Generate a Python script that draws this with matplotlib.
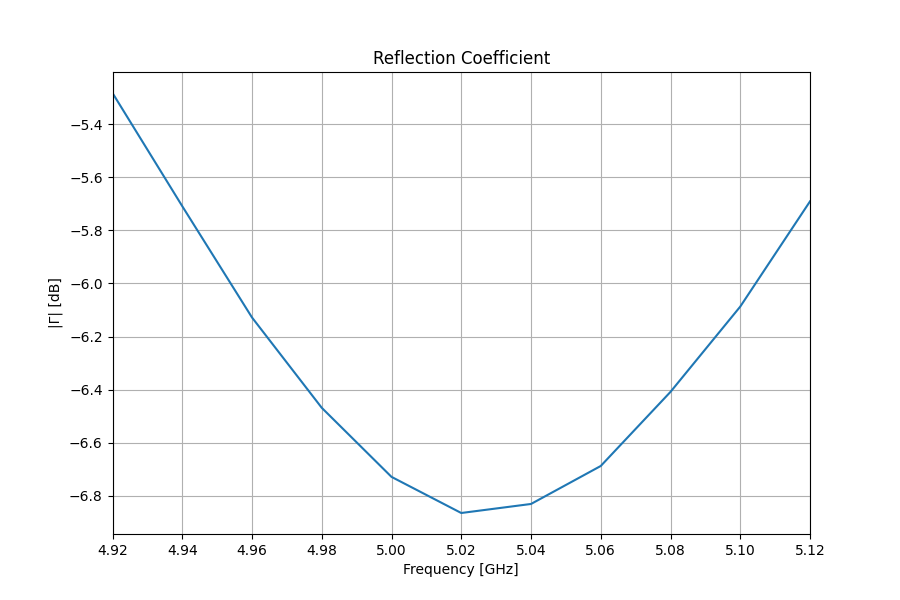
import matplotlib
matplotlib.use("Agg")
import matplotlib.pyplot as plt
import matplotlib.ticker as mticker

freq = [4.92, 4.94, 4.96, 4.98, 5.00, 5.02, 5.04, 5.06, 5.08, 5.10, 5.12]
gamma_db = [-5.283, -5.709, -6.128, -6.468, -6.728, -6.864, -6.830, -6.687, -6.408, -6.087, -5.691]

fig, ax = plt.subplots(figsize=(9, 6), dpi=100)
ax.plot(freq, gamma_db)
ax.set_xlim(freq[0], freq[-1])
ax.set_xticks(freq)
ax.xaxis.set_major_formatter(mticker.FormatStrFormatter("%.2f"))
ax.set_title("Reflection Coefficient")
ax.set_xlabel("Frequency [GHz]")
ax.set_ylabel("|Γ| [dB]")
ax.grid(True)
fig.savefig("out.png")
